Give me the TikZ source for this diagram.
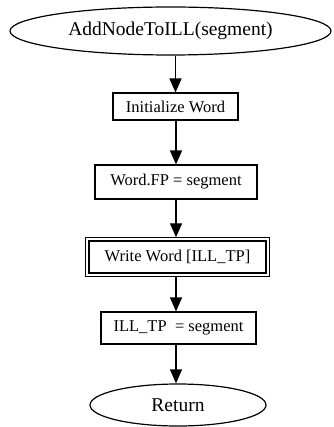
\documentclass[tikz,border=0pt]{standalone}
\usepackage{fontspec}
\setmainfont{Liberation Serif}
\usetikzlibrary{shapes.geometric,arrows.meta,calc}

\tikzset{
  term/.style={ellipse, draw, line width=1.2pt, inner sep=0pt,
               font=\fontsize{19.5}{22}\selectfont},
  procbox/.style={rectangle, draw, line width=1.1pt, inner sep=0pt,
                  font=\fontsize{16.5}{19}\selectfont},
  outerframe/.style={draw, line width=1.1pt},
  flow/.style={line width=1.4pt, -{Triangle[length=14pt,width=12pt]}}
}

\begin{document}
\begin{tikzpicture}[x=1pt,y=-1pt]
  \useasboundingbox (0,0) rectangle (333,427);

  % terminals and process steps, top to bottom
  \node[term, minimum width=321, minimum height=48] (start) at (170.5,31) {AddNodeToILL(segment)};
  \node[procbox, minimum width=125, minimum height=27] (init) at (175.5,106.5) {Initialize Word};
  \node[procbox, minimum width=162, minimum height=34] (fp) at (176,182) {Word.FP = segment};
  \node[procbox, minimum width=177, minimum height=32] (write) at (177.5,257) {Write Word [ILL\_TP]};
  \node[procbox, minimum width=155, minimum height=32] (tp) at (178.5,328) {ILL\_TP\enspace= segment};
  \node[term, minimum width=176, minimum height=42] (ret) at (178,405) {Return};

  % second frame around the output step
  \draw[outerframe] ($(write.north west)+(-3.2,-3.2)$) rectangle ($(write.south east)+(3.2,3.2)$);

  % vertical flow connectors
  \draw[flow] (start.south -| init.north) -- (init.north);
  \draw[flow] (init.south -| fp.north) -- (fp.north);
  \draw[flow] (fp.south) -- ($(fp.south |- write.north)+(0,-3.2)$);
  \draw[flow] ($(write.south -| fp.south)+(0,3.2)$) -- (tp.north -| fp.south);
  \draw[flow] (tp.south -| fp.south) -- (ret.north -| fp.south);
\end{tikzpicture}
\end{document}
